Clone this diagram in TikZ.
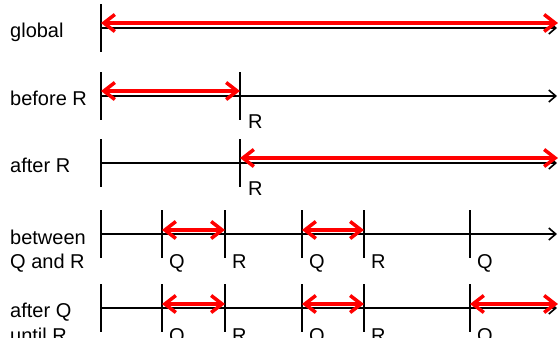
\documentclass[tikz,border=0pt]{standalone}
\usepackage{fontspec}
\setmainfont{Liberation Sans}
\usetikzlibrary{arrows.meta}
\begin{document}
\begin{tikzpicture}[x=1pt,y=-1pt,
  axisline/.style={line width=1.6pt,-{Straight Barb[length=7pt,width=12pt]}},
  tickline/.style={line width=1.6pt},
  span/.style={red,line width=3.5pt,{Straight Barb[length=11pt,width=17pt]}-{Straight Barb[length=11pt,width=17pt]}},
  lbl/.style={anchor=base west,inner sep=0pt,font=\fontsize{20}{24}\selectfont},
  tlabel/.style={anchor=base west,inner sep=0pt,font=\fontsize{20}{24}\selectfont}]
\useasboundingbox (0,0) rectangle (558,338);
% row 1: global
\node[lbl] (t1) at (10,37) {global};
\coordinate (a1s) at (101,28); \coordinate (a1e) at (557,28);
\coordinate (k1t) at (101,4); \coordinate (k1b) at (101,52);
\draw[tickline] (k1t) -- (k1b);
\draw[axisline] (a1s) -- (a1e);
\coordinate (r1s) at (101,23); \coordinate (r1e) at (558,23);
\draw[span] (r1s) -- (r1e);
% row 2: before R
\node[lbl] (t2) at (10,105) {before R};
\coordinate (a2s) at (101,96); \coordinate (a2e) at (557,96);
\coordinate (k2at) at (101,72); \coordinate (k2ab) at (101,120);
\coordinate (k2bt) at (240,72); \coordinate (k2bb) at (240,120);
\draw[tickline] (k2at) -- (k2ab);
\draw[tickline] (k2bt) -- (k2bb);
\draw[axisline] (a2s) -- (a2e);
\node[tlabel] (m2) at (248,128) {R};
\coordinate (r2s) at (101,91); \coordinate (r2e) at (240,91);
\draw[span] (r2s) -- (r2e);
% row 3: after R
\node[lbl] (t3) at (10,172) {after R};
\coordinate (a3s) at (101,163); \coordinate (a3e) at (557,163);
\coordinate (k3at) at (101,139); \coordinate (k3ab) at (101,187);
\coordinate (k3bt) at (240,139); \coordinate (k3bb) at (240,187);
\draw[tickline] (k3at) -- (k3ab);
\draw[tickline] (k3bt) -- (k3bb);
\draw[axisline] (a3s) -- (a3e);
\node[tlabel] (m3) at (248,195) {R};
\coordinate (r3s) at (240,158); \coordinate (r3e) at (558,158);
\draw[span] (r3s) -- (r3e);
% row 4: between Q and R
\node[lbl] (t4a) at (10,244) {between};
\node[lbl] (t4b) at (10,268) {Q and R};
\coordinate (a4s) at (101,234); \coordinate (a4e) at (557,234);
\foreach \n/\x in {a/101,b/162,c/225,d/302,e/364,f/470}{
  \coordinate (k4\n t) at (\x,210); \coordinate (k4\n b) at (\x,258);
  \draw[tickline] (k4\n t) -- (k4\n b);
}
\draw[axisline] (a4s) -- (a4e);
\node[tlabel] (m4a) at (169,268) {Q};
\node[tlabel] (m4b) at (232,268) {R};
\node[tlabel] (m4c) at (309,268) {Q};
\node[tlabel] (m4d) at (371,268) {R};
\node[tlabel] (m4e) at (477,268) {Q};
\coordinate (r4as) at (162,230); \coordinate (r4ae) at (225,230);
\coordinate (r4bs) at (302,230); \coordinate (r4be) at (364,230);
\draw[span] (r4as) -- (r4ae);
\draw[span] (r4bs) -- (r4be);
% row 5: after Q until R
\node[lbl] (t5a) at (10,317) {after Q};
\node[lbl] (t5b) at (10,342) {until R};
\coordinate (a5s) at (101,308); \coordinate (a5e) at (557,308);
\foreach \n/\x in {a/101,b/162,c/225,d/302,e/364,f/470}{
  \coordinate (k5\n t) at (\x,284); \coordinate (k5\n b) at (\x,332);
  \draw[tickline] (k5\n t) -- (k5\n b);
}
\draw[axisline] (a5s) -- (a5e);
\node[tlabel] (m5a) at (169,342) {Q};
\node[tlabel] (m5b) at (232,342) {R};
\node[tlabel] (m5c) at (309,342) {Q};
\node[tlabel] (m5d) at (371,342) {R};
\node[tlabel] (m5e) at (477,342) {Q};
\coordinate (r5as) at (162,304); \coordinate (r5ae) at (225,304);
\coordinate (r5bs) at (302,304); \coordinate (r5be) at (364,304);
\coordinate (r5cs) at (470,304); \coordinate (r5ce) at (558,304);
\draw[span] (r5as) -- (r5ae);
\draw[span] (r5bs) -- (r5be);
\draw[span] (r5cs) -- (r5ce);
\end{tikzpicture}
\end{document}
